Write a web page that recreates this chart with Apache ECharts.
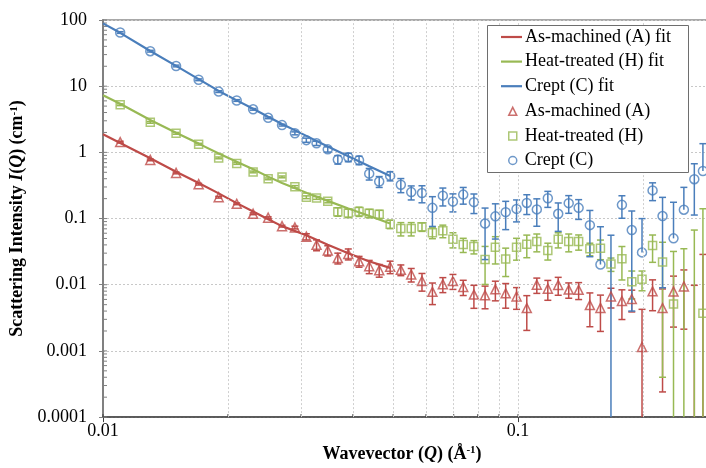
<!DOCTYPE html>
<html>
<head>
<meta charset="utf-8">
<script src="https://cdn.jsdelivr.net/npm/echarts@6/dist/echarts.min.js"></script>
<style>
html, body { margin: 0; padding: 0; background: #fff; overflow: hidden; }
#chart { width: 716px; height: 468px; }
</style>
</head>
<body>
<div id="chart"></div>
<script>
// wavevector Q (1/A) of the measured points
var Q = [0.011, 0.013, 0.015, 0.017, 0.019, 0.021, 0.023, 0.025, 0.027, 0.029,
	0.0309, 0.0327, 0.0348, 0.0368, 0.039, 0.0414, 0.0438, 0.0463, 0.0492, 0.0522,
	0.0553, 0.0587, 0.0622, 0.0659, 0.0697, 0.0738, 0.0783, 0.0833, 0.0882, 0.0934,
	0.0992, 0.105, 0.111, 0.118, 0.125, 0.1325, 0.140, 0.149, 0.158, 0.1675,
	0.178, 0.188, 0.199, 0.211, 0.223, 0.237, 0.251, 0.266, 0.279];

// As-machined (A)
var asMachined = [1.43, 0.770, 0.489, 0.331, 0.210, 0.167, 0.118, 0.103, 0.0768, 0.0732,
	0.0532, 0.0401, 0.033, 0.0253, 0.0292, 0.0226, 0.019, 0.0166, 0.0187, 0.0168,
	0.0143, 0.0114, 0.00781, 0.0102, 0.0114, 0.00927, 0.0071, 0.00693, 0.00851, 0.00742,
	0.00665, 0.00444, 0.0100, 0.00872, 0.00993, 0.00845, 0.00837, 0.00492, 0.00447, 0.00665,
	0.00568, 0.00608, 0.00115, 0.00795, 0.00444, 0.00789, 0.00943, null, null];
var asMachinedErr = [0.043, 0.023, 0.015, 0.010, 0.0063, 0.005, 0.0036, 0.0031, 0.0023, 0.0035,
	0.0057, 0.0075, 0.0058, 0.0047, 0.0055, 0.0042, 0.0043, 0.0036, 0.004, 0.0031,
	0.0033, 0.0034, 0.0028, 0.0026, 0.0029, 0.0024, 0.0027, 0.0026, 0.0028, 0.003,
	0.0024, 0.0024, 0.0026, 0.0029, 0.003, 0.0022, 0.0024, 0.0026, 0.0025, 0.0022,
	0.0027, 0.0022, 0.0031, 0.0039, 0.0042, 0.0056, 0.0073, 0.0098, 0.0287];

// Heat-treated (H)
var heatTreated = [5.25, 2.84, 1.94, 1.33, 0.825, 0.679, 0.506, 0.398, 0.426, 0.3025,
	0.210, 0.205, 0.183, 0.127, 0.121, 0.128, 0.120, 0.116, 0.0823, 0.0707,
	0.0707, 0.075, 0.061, 0.0654, 0.0485, 0.0405, 0.0378, 0.024, 0.0369, 0.0245,
	0.0369, 0.0409, 0.0449, 0.033, 0.0485, 0.0449, 0.0449, 0.0349, 0.0356, 0.0206,
	0.0248, 0.0111, 0.0121, 0.0391, 0.0221, 0.00513, null, null, 0.0037];
var heatTreatedErr = [0.16, 0.085, 0.06, 0.04, 0.025, 0.02, 0.015, 0.012, 0.013, 0.012,
	0.010, 0.010, 0.010, 0.0186, 0.0178, 0.0204, 0.0176, 0.017, 0.012, 0.0161,
	0.0161, 0.011, 0.0114, 0.0141, 0.0125, 0.0098, 0.0086, 0.0139, 0.0163, 0.0112,
	0.0134, 0.0153, 0.0135, 0.0094, 0.0125, 0.0135, 0.0116, 0.0075, 0.0117, 0.0047,
	0.013, 0.005, 0.004, 0.0173, 0.0217, 0.0267, 0.035, 0.067, 0.137];

// Crept (C)
var crept = [64.7, 33.8, 20.2, 12.5, 8.28, 6.08, 4.47, 3.33, 2.58, 1.94,
	1.53, 1.37, 1.11, 0.779, 0.846, 0.763, 0.477, 0.363, 0.441, 0.324,
	0.251, 0.243, 0.145, 0.222, 0.181, 0.230, 0.177, 0.084, 0.108, 0.125,
	0.140, 0.172, 0.1375, 0.2025, 0.118, 0.171, 0.145, 0.0795, 0.0202, null,
	0.161, 0.067, 0.0308, 0.2665, 0.109, 0.0502, 0.136, 0.393, 0.523];
var creptErr = [1.9, 1.0, 0.6, 0.38, 0.25, 0.18, 0.13, 0.10, 0.08, 0.10,
	0.11, 0.10, 0.10, 0.114, 0.124, 0.112, 0.095, 0.068, 0.070, 0.078,
	0.060, 0.070, 0.069, 0.067, 0.055, 0.065, 0.058, 0.060, 0.059, 0.057,
	0.051, 0.057, 0.061, 0.055, 0.054, 0.051, 0.048, 0.053, 0.055, 0.056,
	0.060, 0.063, 0.069, 0.080, 0.100, 0.126, 0.16, 0.28, 0.83];

// fitted curves
var fitQ = [0.01, 0.011, 0.013, 0.015, 0.017, 0.019, 0.021, 0.023, 0.025, 0.027, 0.031, 0.0348, 0.039, 0.0437, 0.0492];
var asMachinedFit = [1.879, 1.39, 0.814, 0.511, 0.344, 0.240, 0.171, 0.128, 0.0976, 0.0768, 0.0556, 0.0403, 0.0299, 0.0226, 0.018];
var heatTreatedFit = [7.27, 5.43, 3.09, 1.98, 1.356, 0.963, 0.72, 0.556, 0.43, 0.344, 0.244, 0.185, 0.142, 0.110, 0.084];
var creptFit = [89, 64.0, 34.0, 20.3, 12.8, 8.48, 6.1, 4.55, 3.45, 2.68, 1.76, 1.23, 0.875, 0.623, 0.441];

// axis labels and gridlines
var yTickLabels = ['0.0001', '0.001', '0.01', '0.1', '1', '10', '100'];
var xTickLabels = ['0.01', '0.1'];
var xGridLines = [0.02, 0.03, 0.04, 0.05, 0.06, 0.07, 0.08, 0.09, 0.1, 0.2];

var RED = '#BE4B48', GREEN = '#98B954', BLUE = '#4A7EBB';
var FONT = '"Liberation Serif", "Times New Roman", serif';

// the plot runs a little past the right edge of the picture
var myChart = echarts.init(document.getElementById('chart'));

function pairs(xs, ys) {
	var out = [];
	for (var i = 0; i < xs.length; i++) {
		if (ys[i] != null) out.push([xs[i], ys[i]]);
	}
	return out;
}

// error bars: [q, err, value(0 if off-scale)]
function errSeries(values, errs, color, floorNegative) {
	var data = [];
	for (var i = 0; i < Q.length; i++) {
		data.push([Q[i], errs[i], values[i] == null ? 0 : values[i]]);
	}
	return {
		type: 'custom',
		silent: true,
		data: data,
		encode: { x: 0, y: 1 },
		z: 3,
		renderItem: function (params, api) {
			var cs = params.coordSys;
			var yTop = cs.y, yBot = cs.y + cs.height;
			var q = api.value(0), e = api.value(1), v = api.value(2);
			var hiPt = api.coord([q, v + e]);
			var px = hiPt[0], hi = hiPt[1];
			var mid = v > 0 ? api.coord([q, v])[1] : yBot + 10;
			var lo, loCap = true;
			if (v - e > 0) {
				lo = api.coord([q, v - e])[1];
			} else {
				loCap = false;
				lo = floorNegative ? yBot : mid;
			}
			var a = Math.max(hi, yTop), b = Math.min(lo, yBot);
			var st = { stroke: color, lineWidth: 1.5 };
			var children = [];
			if (b > a) children.push({ type: 'line', shape: { x1: px, y1: a, x2: px, y2: b }, style: st });
			if (hi >= yTop && hi <= yBot) children.push({ type: 'line', shape: { x1: px - 3.5, y1: hi, x2: px + 3.5, y2: hi }, style: st });
			if (loCap && lo <= yBot) children.push({ type: 'line', shape: { x1: px - 3.5, y1: lo, x2: px + 3.5, y2: lo }, style: st });
			return { type: 'group', children: children };
		}
	};
}

function markerSeries(name, values, symbol, size, color) {
	return {
		name: name,
		type: 'scatter',
		data: pairs(Q, values),
		symbol: symbol,
		symbolSize: size,
		z: 4,
		itemStyle: { color: 'rgba(255,255,255,0)', borderColor: color, borderWidth: 1.5 }
	};
}

function fitSeries(name, values, color) {
	return {
		name: name,
		type: 'line',
		data: pairs(fitQ, values),
		symbol: 'none',
		z: 2,
		lineStyle: { color: color, width: 2.2 },
		itemStyle: { color: color }
	};
}

// minor ticks (kind 0 = y minor, 1 = x minor, 2 = y major inner, 3 = x major inner)
var tickData = [];
for (var k = -4; k <= 1; k++) {
	for (var m = 2; m <= 9; m++) tickData.push([0.01, m * Math.pow(10, k), 0]);
}
for (var k2 = -4; k2 <= 2; k2++) tickData.push([0.01, Math.pow(10, k2), 2]);
[0.02, 0.03, 0.04, 0.05, 0.06, 0.07, 0.08, 0.09, 0.2].forEach(function (v) { tickData.push([v, 0.0001, 1]); });
[0.01, 0.1].forEach(function (v) { tickData.push([v, 0.0001, 3]); });

var ticksSeries = {
	type: 'custom',
	silent: true,
	z: 1,
	data: tickData,
	encode: { x: 0, y: 1 },
	renderItem: function (params, api) {
		var p = api.coord([api.value(0), api.value(1)]);
		var kind = api.value(2);
		var shape;
		if (kind === 0 || kind === 2) shape = { x1: p[0], y1: p[1], x2: p[0] + 4, y2: p[1] };
		else shape = { x1: p[0], y1: p[1], x2: p[0], y2: p[1] - 3 };
		return { type: 'line', shape: shape, style: { stroke: kind % 2 === 0 ? '#808080' : '#404040', lineWidth: 1 } };
	},
	markLine: {
		silent: true,
		symbol: ['none', 'none'],
		label: { show: false },
		animation: false,
		lineStyle: { color: '#cfcfcf', type: [2, 2], width: 1 },
		data: xGridLines.map(function (v) { return { xAxis: v }; })
	}
};

var nameStyle = {
	fontFamily: FONT, fontSize: 18, fontWeight: 'bold', color: '#000',
	rich: {
		i: { fontFamily: FONT, fontSize: 18, fontWeight: 'bold', fontStyle: 'italic', color: '#000' },
		s: { fontFamily: FONT, fontSize: 11, fontWeight: 'bold', color: '#000', verticalAlign: 'top' }
	}
};

var option = {
	animation: false,
	backgroundColor: '#fff',
	grid: {
		left: 103,
		top: 20,
		right: 0,
		bottom: 45,
		show: true,
		borderColor: '#8c8c8c',
		borderWidth: 1.5
	},
	xAxis: {
		type: 'log',
		logBase: 10,
		min: 0.01,
		max: 0.3,
		name: 'Wavevector ({i|Q}) (Å{s|-1})',
		nameLocation: 'middle',
		nameGap: 27,
		nameTextStyle: Object.assign({ padding: [0, 15, 0, 0] }, nameStyle),
		axisLine: { lineStyle: { color: '#404040', width: 1.5 } },
		axisTick: { show: true, length: 5, lineStyle: { color: '#404040' } },
		axisLabel: {
			margin: 5,
			showMaxLabel: false,
			fontFamily: FONT,
			fontSize: 18,
			color: '#000',
			formatter: function (val) {
				var k = Math.round(Math.log10(val));
				return Math.abs(Math.log10(val) - k) < 1e-6 ? (xTickLabels[k + 2] || '') : '';
			}
		},
		splitLine: { show: false }
	},
	yAxis: {
		type: 'log',
		logBase: 10,
		min: 0.0001,
		max: 100,
		name: 'Scattering Intensity {i|I}({i|Q}) (cm{s|-1})',
		nameLocation: 'middle',
		nameRotate: 90,
		nameGap: 72,
		nameTextStyle: nameStyle,
		axisLine: { lineStyle: { color: '#808080', width: 2 } },
		axisTick: { show: true, length: 4, lineStyle: { color: '#808080' } },
		axisLabel: {
			margin: 16,
			fontFamily: FONT,
			fontSize: 18,
			color: '#000',
			formatter: function (val) {
				var k = Math.round(Math.log10(val));
				return yTickLabels[k + 4] || '';
			}
		},
		splitLine: { show: true, lineStyle: { color: '#c8c8c8', type: [2, 2], width: 1 } }
	},
	legend: [{
		orient: 'vertical',
		left: 501,
		top: 27,
		padding: 0,
		icon: 'rect',
		itemWidth: 21,
		itemHeight: 2.2,
		itemGap: 4.6,
		selectedMode: false,
		z: 10,
		textStyle: { fontFamily: FONT, fontSize: 18, color: '#000', lineHeight: 20, padding: [0, 0, 0, -2] },
		data: ['As-machined (A) fit', 'Heat-treated (H) fit', 'Crept (C) fit']
	}, {
		orient: 'vertical',
		left: 508,
		top: 101.3,
		padding: 0,
		itemWidth: 8,
		itemHeight: 8,
		itemGap: 4.6,
		selectedMode: false,
		z: 10,
		itemStyle: { borderWidth: 1.5 },
		textStyle: { fontFamily: FONT, fontSize: 18, color: '#000', lineHeight: 20, padding: [0, 0, 0, 3] },
		data: ['As-machined (A)', 'Heat-treated (H)', 'Crept (C)']
	}],
	graphic: {
		elements: [{
			type: 'rect',
			z: 9,
			silent: true,
			shape: { x: 487.5, y: 25.5, width: 201, height: 147 },
			style: { fill: '#fff', stroke: '#6e6e6e', lineWidth: 1 }
		}]
	},
	series: [
		ticksSeries,
		fitSeries('As-machined (A) fit', asMachinedFit, RED),
		fitSeries('Heat-treated (H) fit', heatTreatedFit, GREEN),
		fitSeries('Crept (C) fit', creptFit, BLUE),
		errSeries(asMachined, asMachinedErr, RED, true),
		markerSeries('As-machined (A)', asMachined, 'triangle', 9, RED),
		errSeries(heatTreated, heatTreatedErr, GREEN, true),
		markerSeries('Heat-treated (H)', heatTreated, 'rect', 8, GREEN),
		errSeries(crept, creptErr, BLUE, false),
		markerSeries('Crept (C)', crept, 'circle', 9, BLUE)
	]
};

myChart.setOption(option);
</script>
</body>
</html>
